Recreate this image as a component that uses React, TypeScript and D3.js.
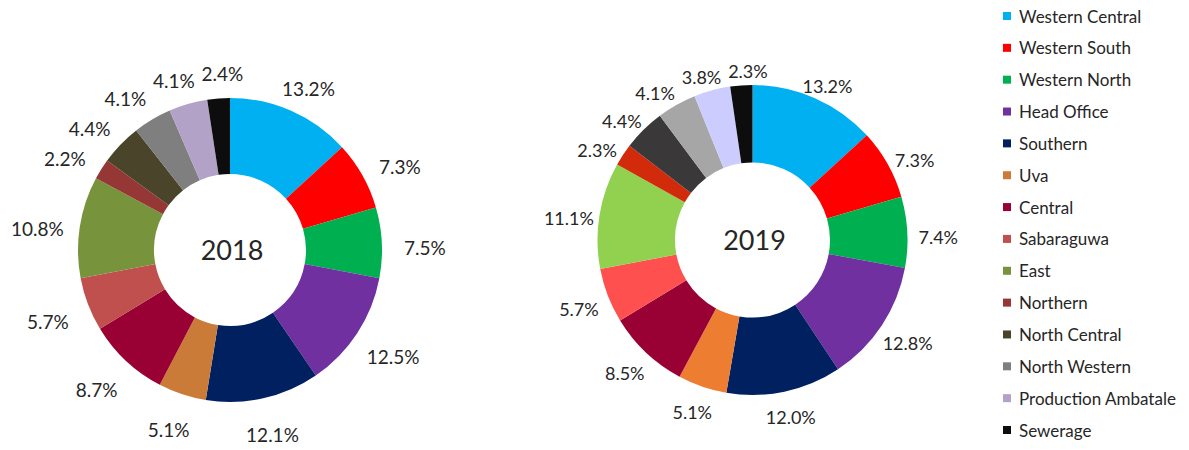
import React from 'react';
import * as d3 from 'd3';

// regions, in the order the slices run clockwise from 12 o'clock
const regions = [
  'Western Central', 'Western South', 'Western North', 'Head Office', 'Southern', 'Uva', 'Central',
  'Sabaraguwa', 'East', 'Northern', 'North Central', 'North Western', 'Production Ambatale', 'Sewerage',
];

const share2018 = [13.2, 7.3, 7.5, 12.5, 12.1, 5.1, 8.7, 5.7, 10.8, 2.2, 4.4, 4.1, 4.1, 2.4];
const share2019 = [13.2, 7.3, 7.4, 12.8, 12.0, 5.1, 8.5, 5.7, 11.1, 2.3, 4.4, 4.1, 3.8, 2.3];

const colors2018 = [
  '#00B0F0', '#FF0000', '#00B050', '#7030A0', '#002060', '#C97B37', '#990033',
  '#C0504D', '#77933C', '#953735', '#4A452A', '#7F7F7F', '#B3A2C7', '#0D0D0D',
];
const colors2019 = [
  '#00B0F0', '#FF0000', '#00B050', '#7030A0', '#002060', '#ED7D31', '#990033',
  '#FF5050', '#92D050', '#D22B0C', '#3A3838', '#A6A6A6', '#CCCCFF', '#0D0D0D',
];

const W = 1189, H = 450;
const FONT = 'Lato, "Open Sans", sans-serif';
const TEXT = '#262626';

type DonutProps = {
  year: string; values: number[]; colors: string[];
  cx: number; cy: number; r: number; rx: number; ry: number; labelSize: number;
};

function Donut({ year, values, colors, cx, cy, r, rx, ry, labelSize }: DonutProps) {
  const pie = d3.pie<number>().sort(null).value(d => d)
  const arcs = pie(values)
  const arc = d3.arc<d3.PieArcDatum<number>>().innerRadius(r * 0.5).outerRadius(r)
  const fmt = (v: number) => d3.format('.1f')(v) + '%'

  // labels sit on an ellipse round the ring, then get nudged apart if they collide
  const labels = arcs.map(a => {
    const t = (a.startAngle + a.endAngle) / 2
    const txt = fmt(a.data)
    return { t, txt, x: rx * Math.sin(t), y: 6 - ry * Math.cos(t), w: txt.length * labelSize * 0.52 }
  })
  for (let k = 0; k < 40; k++) {
    for (let i = 0; i < labels.length; i++) {
      for (let j = i + 1; j < labels.length; j++) {
        const a = labels[i], b = labels[j]
        const ox = (a.w + b.w) / 2 + 9 - Math.abs(a.x - b.x)
        const oy = labelSize + 2 - Math.abs(a.y - b.y)
        if (ox > 0 && oy > 0) {
          const s = a.x < b.x ? 1 : -1
          a.x -= s * ox / 2
          b.x += s * ox / 2
        }
      }
    }
  }

  return (
    <g transform={`translate(${cx},${cy})`}>
      {arcs.map((a, i) => (
        <path key={i} d={arc(a) || ''} fill={colors[i]} />
      ))}
      {labels.map((l, i) => (
        <text key={'l' + i} x={l.x} y={l.y} textAnchor="middle" dominantBaseline="central"
          fontSize={labelSize} fill={TEXT}>
          {l.txt}
        </text>
      ))}
      <text x={2} y={-1} textAnchor="middle" dominantBaseline="central" fontSize={27} fill={TEXT}>{year}</text>
    </g>
  )
}

export default function App() {
  const legendY = d3.scalePoint<string>().domain(regions).range([16, 430])
  return (
    <svg width={W} height={H} style={{ position: 'absolute', left: 0, top: 0, fontFamily: FONT }}>
      <rect width={W} height={H} fill="#fff" />
      <Donut year="2018" values={share2018} colors={colors2018} cx={230} cy={250} r={152} rx={195} ry={183} labelSize={19} />
      <Donut year="2019" values={share2019} colors={colors2019} cx={752.5} cy={240} r={155} rx={186} ry={175} labelSize={18} />
      <g>
        {regions.map((name, i) => (
          <g key={name} transform={`translate(1003,${legendY(name)})`}>
            <rect x={0} y={-4} width={8} height={8} fill={colors2018[i]} />
            <text x={16} y={0} dominantBaseline="central" fontSize={17} fill={TEXT}>{name}</text>
          </g>
        ))}
      </g>
    </svg>
  )
}
